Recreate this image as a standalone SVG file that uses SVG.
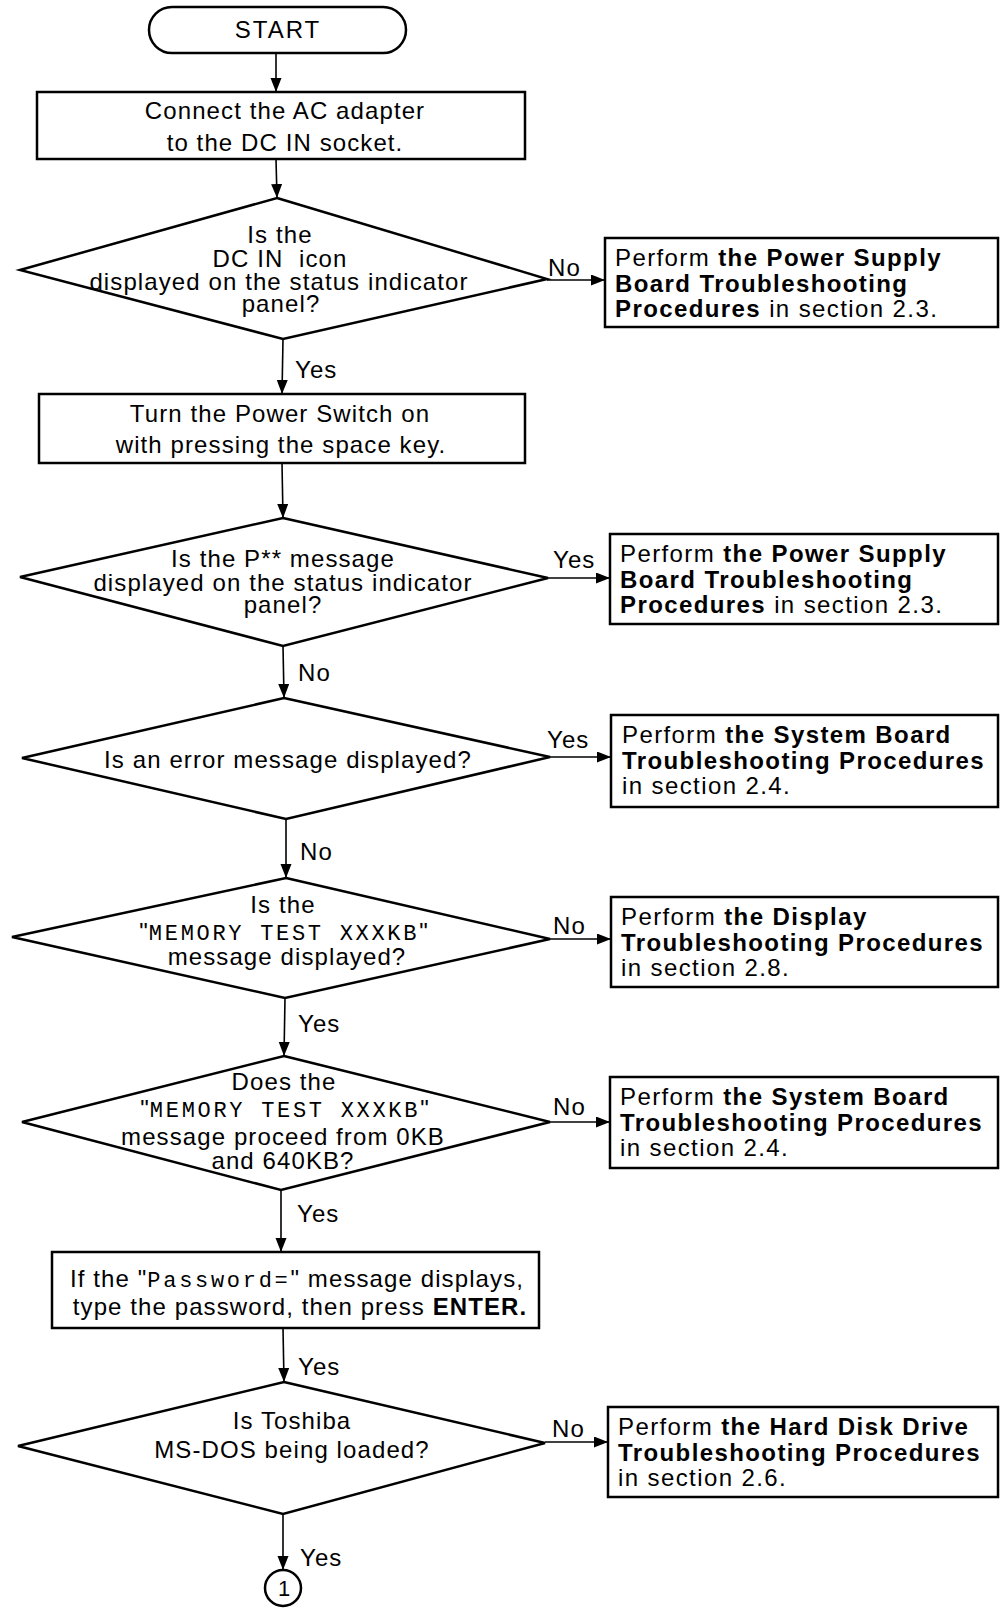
<svg xmlns="http://www.w3.org/2000/svg" width="1000" height="1612" viewBox="0 0 1000 1612">
<style>
.shape{fill:#fff;stroke:#000;stroke-width:2.5}
.conn{fill:none;stroke:#000;stroke-width:1.6;marker-end:url(#ah)}
.t{font-family:"Liberation Sans",Arial,Helvetica,sans-serif;font-size:24px;letter-spacing:1.1px;fill:#000}
.c{text-anchor:middle}
.r{letter-spacing:1.4px}
.b{font-weight:bold}
.m{font-family:"Liberation Mono","Courier New",monospace;font-size:22px;letter-spacing:2.7px}
</style>
<defs>
<marker id="ah" markerUnits="userSpaceOnUse" markerWidth="15" markerHeight="12" refX="14" refY="5.5" orient="auto">
<path d="M0,0 L14,5.5 L0,11 z" fill="#000"/>
</marker>
</defs>
<rect width="1000" height="1612" fill="#fff"/>

<g id="connectors">
<line class="conn" x1="276" y1="53" x2="276" y2="92"/>
<line class="conn" x1="276" y1="159" x2="277" y2="198"/>
<line class="conn" x1="283" y1="339" x2="282" y2="394"/>
<line class="conn" x1="282" y1="463" x2="283" y2="518"/>
<line class="conn" x1="283" y1="646" x2="284" y2="698"/>
<line class="conn" x1="286" y1="819" x2="286" y2="878"/>
<line class="conn" x1="285" y1="998" x2="284" y2="1056"/>
<line class="conn" x1="281" y1="1190" x2="281" y2="1252"/>
<line class="conn" x1="283" y1="1328" x2="284" y2="1382"/>
<line class="conn" x1="283" y1="1514" x2="283" y2="1570"/>
<line class="conn" x1="547" y1="280" x2="605" y2="280"/>
<line class="conn" x1="548" y1="578" x2="610" y2="578"/>
<line class="conn" x1="550" y1="757" x2="611" y2="757"/>
<line class="conn" x1="550" y1="939" x2="611" y2="939"/>
<line class="conn" x1="550" y1="1122" x2="610" y2="1122"/>
<line class="conn" x1="545" y1="1442" x2="608" y2="1442"/>
<text class="t" x="295" y="378">Yes</text>
<text class="t" x="298" y="681">No</text>
<text class="t" x="300" y="860">No</text>
<text class="t" x="298" y="1032">Yes</text>
<text class="t" x="297" y="1222">Yes</text>
<text class="t" x="298" y="1375">Yes</text>
<text class="t" x="300" y="1566">Yes</text>
<text class="t" x="548" y="276">No</text>
<text class="t" x="553" y="568">Yes</text>
<text class="t" x="547" y="748">Yes</text>
<text class="t" x="553" y="934">No</text>
<text class="t" x="553" y="1115">No</text>
<text class="t" x="552" y="1437">No</text>
</g>

<g id="start">
<rect class="shape" x="149" y="7" width="257" height="46" rx="23" ry="23"/>
<text class="t c" x="278" y="38" style="letter-spacing:2px">START</text>
</g>

<g id="box1">
<rect class="shape" x="37" y="92" width="488" height="67"/>
<text class="t c" x="285" y="119">Connect the AC adapter</text>
<text class="t c" x="285" y="151">to the DC IN socket.</text>
</g>

<g id="d1">
<polygon class="shape" points="277,198 547,279 283,339 20,270"/>
<text class="t c" x="280" y="243">Is the</text>
<text class="t c" x="280" y="267" xml:space="preserve">DC IN  icon</text>
<text class="t c" x="279" y="290">displayed on the status indicator</text>
<text class="t c" x="281" y="312">panel?</text>
</g>

<g id="r1">
<rect class="shape" x="605" y="238" width="393" height="89"/>
<text class="t r" x="615" y="266">Perform <tspan class="b">the Power Supply</tspan></text>
<text class="t r b" x="615" y="292">Board Troubleshooting</text>
<text class="t r" x="615" y="317"><tspan class="b">Procedures</tspan> in section 2.3.</text>
</g>

<g id="box2">
<rect class="shape" x="39" y="394" width="486" height="69"/>
<text class="t c" x="280" y="422">Turn the Power Switch on</text>
<text class="t c" x="281" y="453">with pressing the space key.</text>
</g>

<g id="d2">
<polygon class="shape" points="283,518 548,578 283,646 20,577"/>
<text class="t c" x="283" y="567">Is the P** message</text>
<text class="t c" x="283" y="591">displayed on the status indicator</text>
<text class="t c" x="283" y="613">panel?</text>
</g>

<g id="r2">
<rect class="shape" x="610" y="534" width="388" height="90"/>
<text class="t r" x="620" y="562">Perform <tspan class="b">the Power Supply</tspan></text>
<text class="t r b" x="620" y="588">Board Troubleshooting</text>
<text class="t r" x="620" y="613"><tspan class="b">Procedures</tspan> in section 2.3.</text>
</g>

<g id="d3">
<polygon class="shape" points="284,698 550,757 286,819 22,758"/>
<text class="t c" x="288" y="768">Is an error message displayed?</text>
</g>

<g id="r3">
<rect class="shape" x="611" y="715" width="387" height="92"/>
<text class="t r" x="622" y="743">Perform <tspan class="b">the System Board</tspan></text>
<text class="t r b" x="622" y="769">Troubleshooting Procedures</text>
<text class="t r" x="622" y="794">in section 2.4.</text>
</g>

<g id="d4">
<polygon class="shape" points="286,878 550,939 285,998 12,937"/>
<text class="t c" x="283" y="913">Is the</text>
<text class="t c" x="284" y="940">"<tspan class="m">MEMORY TEST XXXKB</tspan>"</text>
<text class="t c" x="287" y="965">message displayed?</text>
</g>

<g id="r4">
<rect class="shape" x="611" y="897" width="387" height="90"/>
<text class="t r" x="621" y="925">Perform <tspan class="b">the Display</tspan></text>
<text class="t r b" x="621" y="951">Troubleshooting Procedures</text>
<text class="t r" x="621" y="976">in section 2.8.</text>
</g>

<g id="d5">
<polygon class="shape" points="284,1056 550,1122 281,1190 22,1122"/>
<text class="t c" x="284" y="1090">Does the</text>
<text class="t c" x="285" y="1117">"<tspan class="m">MEMORY TEST XXXKB</tspan>"</text>
<text class="t c" x="283" y="1145">message proceed from 0KB</text>
<text class="t c" x="283" y="1169">and 640KB?</text>
</g>

<g id="r5">
<rect class="shape" x="610" y="1077" width="388" height="91"/>
<text class="t r" x="620" y="1105">Perform <tspan class="b">the System Board</tspan></text>
<text class="t r b" x="620" y="1131">Troubleshooting Procedures</text>
<text class="t r" x="620" y="1156">in section 2.4.</text>
</g>

<g id="box3">
<rect class="shape" x="52" y="1252" width="487" height="76"/>
<text class="t c" x="297" y="1287">If the "<tspan class="m">Password=</tspan>" message displays,</text>
<text class="t c" x="300" y="1315">type the password, then press <tspan class="b">ENTER.</tspan></text>
</g>

<g id="d6">
<polygon class="shape" points="284,1382 545,1443 283,1514 18,1446"/>
<text class="t c" x="292" y="1429">Is Toshiba</text>
<text class="t c" x="292" y="1458">MS-DOS being loaded?</text>
</g>

<g id="r6">
<rect class="shape" x="608" y="1407" width="390" height="90"/>
<text class="t r" x="618" y="1435">Perform <tspan class="b">the Hard Disk Drive</tspan></text>
<text class="t r b" x="618" y="1461">Troubleshooting Procedures</text>
<text class="t r" x="618" y="1486">in section 2.6.</text>
</g>

<g id="connector1">
<circle class="shape" cx="283" cy="1588" r="18"/>
<text class="t c" x="284" y="1596" style="font-size:22px;letter-spacing:0">1</text>
</g>
</svg>
